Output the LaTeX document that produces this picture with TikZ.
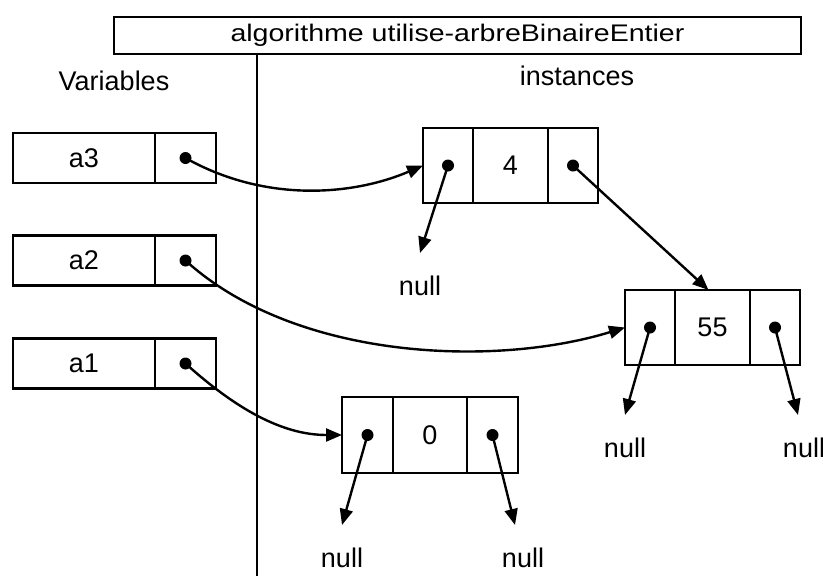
\documentclass[tikz,border=0pt]{standalone}
\usepackage{fontspec}
\setmainfont{Liberation Sans}
\newfontfamily\titlefont[FakeStretch=1.19]{Liberation Sans}
\usetikzlibrary{arrows.meta}
\newcommand{\lblfont}{\fontsize{27}{30}\selectfont}
\begin{document}
\begin{tikzpicture}[x=1pt,y=-1pt,line width=2.4pt,
  cellbox/.style={draw,rectangle,line width=2.6pt,inner sep=0pt,outer sep=0pt,font=\lblfont},
  dotnode/.style={circle,fill,inner sep=0pt,minimum size=12pt},
  ptr/.style={-{Triangle[length=16pt,width=13pt]},line width=2.4pt},
  nullnode/.style={anchor=north,inner xsep=0pt,inner ysep=22pt,font=\lblfont},
  plainlbl/.style={inner sep=0pt,font=\lblfont}]
\useasboundingbox (0,0) rectangle (823,576);
% title and separator
\node[cellbox,minimum width=687pt,minimum height=37pt] (title) at (457.5,35.5)
  {\titlefont\fontsize{24}{26}\selectfont algorithme utilise-arbreBinaireEntier};
\coordinate (lineend) at (257,576);
\draw (title.south -| lineend) -- (lineend);
\node[plainlbl] (variables) at (114,80.5) {Variables};
\node[plainlbl] (instances) at (577,76) {instances};
% variables
\node[cellbox,minimum width=142pt,minimum height=50pt] (a3name) at (84,158) {a3};
\node[cellbox,minimum width=61pt,minimum height=50pt] (a3ptr) at (185.5,158) {};
\node[cellbox,minimum width=142pt,minimum height=50pt] (a2name) at (84,260.5) {a2};
\node[cellbox,minimum width=61pt,minimum height=50pt] (a2ptr) at (185.5,260.5) {};
\node[cellbox,minimum width=142pt,minimum height=50pt] (a1name) at (84,363.5) {a1};
\node[cellbox,minimum width=61pt,minimum height=50pt] (a1ptr) at (185.5,363.5) {};
\node[dotnode] (d3) at (a3ptr.center) {};
\node[dotnode] (d2) at (a2ptr.center) {};
\node[dotnode] (d1) at (a1ptr.center) {};
% node 4
\node[cellbox,minimum width=50pt,minimum height=75pt] (n4l) at (448,165.5) {};
\node[cellbox,minimum width=75pt,minimum height=75pt] (n4v) at (510.5,165.5) {4};
\node[cellbox,minimum width=50pt,minimum height=75pt] (n4r) at (573,165.5) {};
% node 55
\node[cellbox,minimum width=50pt,minimum height=75pt] (n55l) at (650,327.5) {};
\node[cellbox,minimum width=75pt,minimum height=75pt] (n55v) at (712.5,327.5) {55};
\node[cellbox,minimum width=50pt,minimum height=75pt] (n55r) at (775,327.5) {};
% node 0
\node[cellbox,minimum width=51pt,minimum height=76pt] (n0l) at (367.5,435) {};
\node[cellbox,minimum width=74pt,minimum height=76pt] (n0v) at (430,435) {0};
\node[cellbox,minimum width=51pt,minimum height=76pt] (n0r) at (492.5,435) {};
% dots in nodes
\node[dotnode] (d4l) at (n4l.center) {};
\node[dotnode] (d4r) at (n4r.center) {};
\node[dotnode] (d55l) at (n55l.center) {};
\node[dotnode] (d55r) at (n55r.center) {};
\node[dotnode] (d0l) at (n0l.center) {};
\node[dotnode] (d0r) at (n0r.center) {};
% null labels
\node[nullnode] (null4l) at (420,253) {null};
\node[nullnode] (null55l) at (625,415) {null};
\node[nullnode] (null55r) at (804,415) {null};
\node[nullnode] (null0l) at (342,525) {null};
\node[nullnode] (null0r) at (523,525) {null};
% connectors
\draw[ptr] (d3.center) .. controls +(80,45) and +(-70,30) .. (n4l.west);
\draw[ptr] (d2.center) .. controls +(110,100) and +(-130,40) .. (n55l.west);
\draw[ptr] (d1.center) .. controls +(50,45) and +(-60,0) .. (n0l.west);
\draw[ptr] (d4r.center) -- ([xshift=-4pt]n55v.north);
\draw[ptr] (d4l.center) -- (null4l.north);
\draw[ptr] (d55l.center) -- (null55l.north);
\draw[ptr] (d55r.center) -- ([xshift=-6pt]null55r.north);
\draw[ptr] (d0l.center) -- (null0l.north);
\draw[ptr] (d0r.center) -- ([xshift=-8pt]null0r.north);
\end{tikzpicture}
\end{document}
